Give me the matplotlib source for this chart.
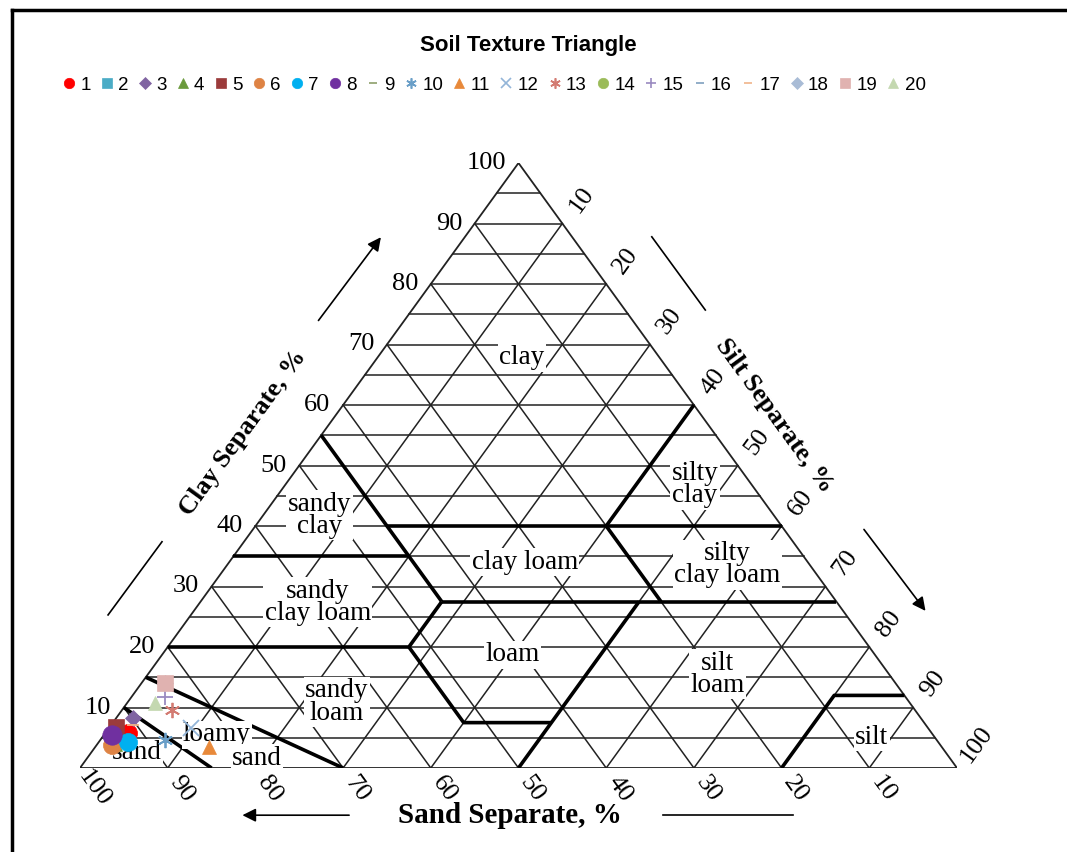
import matplotlib
matplotlib.use('Agg')
import matplotlib.pyplot as plt
from matplotlib.lines import Line2D

# sample composition, % (sand + silt + clay = 100)
sample_ids = [str(i) for i in range(1, 21)]
sand = [91.6, 93.5, 89.8, 94.0, 92.5, 94.4, 92.4, 93.6, 83.3, 88.0,
        83.5, 84.1, 84.7, 83.3, 84.5, 83.3, 90.4, 83.3, 83.3, 86.1]
silt = [2.6, 1.5, 1.9, 2.0, 0.7, 1.8, 3.3, 0.9, 2.7, 7.4,
        13.0, 9.3, 5.7, 2.7, 3.8, 2.7, 2.5, 2.7, 2.7, 3.2]
clay = [5.8, 5.0, 8.3, 4.0, 6.8, 3.8, 4.3, 5.5, 14.0, 4.6,
        3.5, 6.6, 9.6, 14.0, 11.7, 14.0, 7.1, 14.0, 14.0, 10.7]

# marker style per sample
markers = ['o', 's', 'D', '^', 's', 'o', 'o', 'o', '_', (6, 2, 0),
           '^', 'x', (6, 2, 0), 'o', '+', '_', '_', 'D', 's', '^']
colors = ['#ff0000', '#4bacc6', '#8064a2', '#6a9a3c', '#9b3b3b', '#de8344',
          '#00b0f0', '#7030a0', '#8ea06b', '#6a9fc8', '#e8893a', '#93b5d8',
          '#d37b72', '#9bbb59', '#9a8ac0', '#7f9fbf', '#f0b48a', '#a9bcd6',
          '#e0b2b0', '#c4d8b0']
msizes = [13, 10, 8, 10, 11, 13, 13, 14, 7, 11,
          10, 11, 11, 8, 11, 7, 9, 8, 11, 10]

# USDA class boundaries as (clay, silt) polylines
boundaries = [
    [(10, 0), (0, 15)],
    [(15, 0), (0, 30)],
    [(20, 0), (20, 27.5), (27.5, 27.5)],
    [(27.5, 27.5), (27.5, 72.5)],
    [(20, 27.5), (7.5, 40), (7.5, 50)],
    [(0, 50), (27.5, 50)],
    [(0, 80), (12, 80), (12, 88)],
    [(55, 0), (27.5, 27.5)],
    [(35, 0), (35, 20)],
    [(40, 15), (40, 60)],
    [(40, 40), (60, 40)],
    [(40, 40), (27.5, 52.5)],
]

class_names = ['clay', 'sandy\nclay', 'silty\nclay', 'clay loam',
               'silty\nclay loam', 'sandy\nclay loam', 'loam', 'silt\nloam',
               'sandy\nloam', 'loamy', 'sand', 'sand', 'silt']
class_xy = [(50.4, 67.8), (27.3, 41.8), (70.1, 46.8), (50.7, 34.0),
            (73.8, 33.6), (27.1, 27.4), (49.3, 18.7), (72.7, 15.5),
            (29.3, 10.9), (15.6, 5.5), (20.2, 1.6), (6.5, 2.5), (90.3, 5.1)]

tick_vals = list(range(10, 101, 10))


def tern(c, s):
    # clay at apex, sand bottom-left, silt bottom-right
    return s + c / 2.0, c


serif = 'Liberation Serif'
fig = plt.figure(figsize=(10.67, 8.52), dpi=100)
ax = fig.add_axes([80 / 1067, 1 - 768 / 852, 877 / 1067, 605 / 852])
ax.set_xlim(0, 100)
ax.set_ylim(0, 100)
ax.axis('off')

# frame lines
fig.add_artist(Line2D([12 / 1067, 12 / 1067], [0, 1 - 10 / 852],
                      transform=fig.transFigure, color='black', lw=2.5))
fig.add_artist(Line2D([12 / 1067, 1], [1 - 10 / 852, 1 - 10 / 852],
                      transform=fig.transFigure, color='black', lw=2.5))

# grid: clay every 5 %, silt and sand every 10 %
gc, glw = '#222222', 1.1
for v in range(5, 100, 5):
    ax.plot([v / 2, 100 - v / 2], [v, v], color=gc, lw=glw, zorder=1)
for v in range(10, 100, 10):
    ax.plot([v, v + (100 - v) / 2], [0, 100 - v], color=gc, lw=glw, zorder=1)
    ax.plot([100 - v, (100 - v) / 2], [0, 100 - v], color=gc, lw=glw, zorder=1)
ax.plot([0, 100, 50, 0], [0, 0, 100, 0], color=gc, lw=1.3, zorder=1)

for line in boundaries:
    pts = [tern(c, s) for c, s in line]
    ax.plot([p[0] for p in pts], [p[1] for p in pts], color='black',
            lw=2.6, zorder=2, solid_capstyle='butt')

for name, (x, y) in zip(class_names, class_xy):
    ax.text(x, y, name, ha='center', va='center', fontsize=19.5,
            family=serif, linespacing=0.85, zorder=3,
            bbox=dict(boxstyle='square,pad=0.05', fc='white', ec='none'))

# tick labels
for v in tick_vals:
    ax.annotate(str(v), xy=(v / 2, v), xytext=(-9, 0),
                textcoords='offset points', ha='right', va='center',
                fontsize=19, family=serif, annotation_clip=False)
    ax.annotate(str(v), xy=tern(100 - v, v), xytext=(14, 17),
                textcoords='offset points', ha='center', va='center',
                rotation=54, fontsize=19, family=serif, annotation_clip=False)
    ax.annotate(str(v), xy=(100 - v, 0), xytext=(10, -15),
                textcoords='offset points', ha='center', va='center',
                rotation=-54, fontsize=19, family=serif, annotation_clip=False)

# axis titles
ax.text(18.6, 55.4, 'Clay Separate, %', rotation=54, ha='center',
        va='center', fontsize=19, family=serif, weight='bold')
ax.text(79.2, 58.3, 'Silt Separate, %', rotation=-54, ha='center',
        va='center', fontsize=19, family=serif, weight='bold')
ax.text(49.0, -7.8, 'Sand Separate, %', ha='center', va='center',
        fontsize=21, family=serif, weight='bold')

# direction arrows and guide lines
arrow = dict(arrowstyle='-|>', color='black', lw=1.2, mutation_scale=20)
ax.annotate('', xy=(34.5, 88.1), xytext=(27.0, 73.6), arrowprops=arrow,
            annotation_clip=False)
ax.annotate('', xy=(96.6, 25.6), xytext=(89.2, 39.8), arrowprops=arrow,
            annotation_clip=False)
ax.annotate('', xy=(18.2, -7.8), xytext=(31.0, -7.8), arrowprops=arrow,
            annotation_clip=False)
for xs, ys in [([3.2, 9.35], [25.3, 37.4]), ([65.2, 71.3], [87.8, 75.7]),
               ([66.5, 81.3], [-7.8, -7.8])]:
    ax.plot(xs, ys, color='black', lw=1.2, clip_on=False)

# samples
handles = []
for i in range(len(sample_ids)):
    x, y = tern(clay[i], silt[i])
    m = markers[i]
    hollow = m in ('x', '+', '_') or isinstance(m, tuple)
    ax.plot([x], [y], linestyle='none', marker=m, markersize=msizes[i],
            color=colors[i], markeredgewidth=1.3 if hollow else 0.5,
            zorder=5, clip_on=False)
    small = m in ('D', '_')
    handles.append(Line2D([], [], linestyle='none', marker=m,
                          markersize=6 if small else 7.5, color=colors[i],
                          markeredgewidth=1.2 if hollow else 0.5))

fig.text(528 / 1067, 1 - 45 / 852, 'Soil Texture Triangle', ha='center',
         va='center', fontsize=16, weight='bold', family='Liberation Sans')
fig.legend(handles, sample_ids, ncol=20, loc='center',
           bbox_to_anchor=(494 / 1067, 1 - 85 / 852), frameon=False,
           prop={'family': 'Liberation Sans', 'size': 13.5},
           handlelength=0.7, handletextpad=0.25, columnspacing=0.52,
           borderpad=0)

fig.savefig('out.png', dpi=100)
